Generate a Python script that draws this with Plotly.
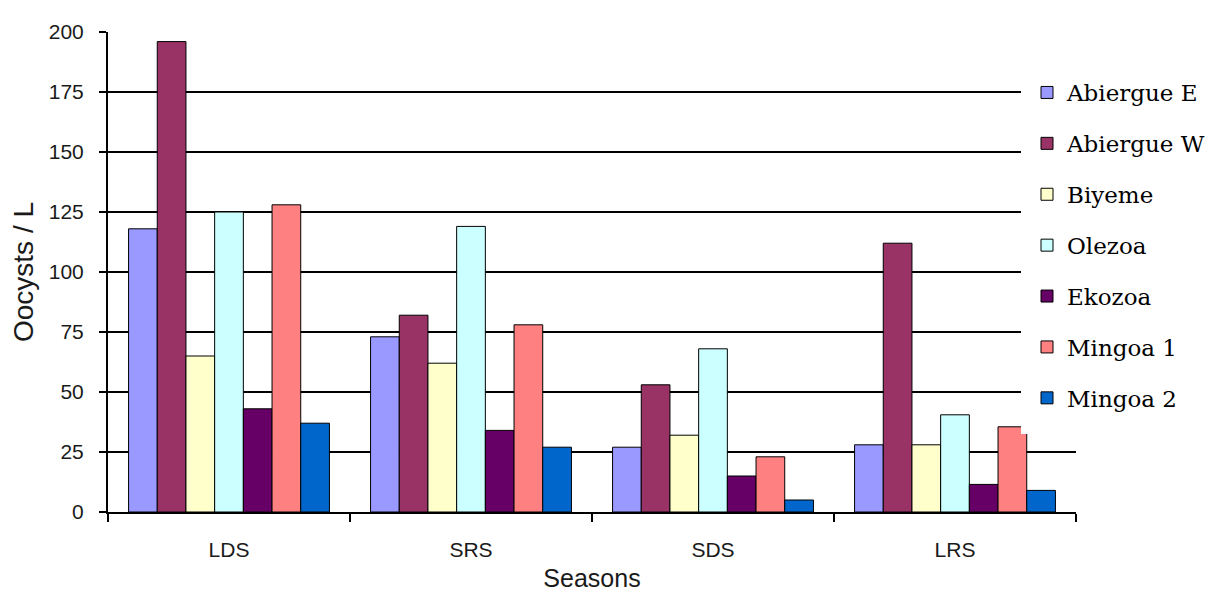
import plotly.graph_objects as go

seasons = ["LDS", "SRS", "SDS", "LRS"]
sites = ["Abiergue E", "Abiergue W", "Biyeme", "Olezoa", "Ekozoa", "Mingoa 1", "Mingoa 2"]
abiergue_e = [118, 73, 27, 28]
abiergue_w = [196, 82, 53, 112]
biyeme = [65, 62, 32, 28]
olezoa = [125, 119, 68, 40.5]
ekozoa = [43, 34, 15, 11.5]
mingoa_1 = [128, 78, 23, 35.5]
mingoa_2 = [37, 27, 5, 9]
series = [abiergue_e, abiergue_w, biyeme, olezoa, ekozoa, mingoa_1, mingoa_2]
colors = ["#9999FF", "#993366", "#FFFFCC", "#CCFFFF", "#660066", "#FF8080", "#0066CC"]
y_ticks = [0, 25, 50, 75, 100, 125, 150, 175, 200]

W, H = 1215, 597
L, R, T, B = 100, 1068, 24, 504

fig = go.Figure()
for name, vals, col in zip(sites, series, colors):
    fig.add_trace(go.Bar(
        x=seasons, y=vals, name=name, legendgroup=name,
        marker=dict(color=col, line=dict(color="black", width=1)),
    ))

def px_x(p):
    return (p - L) / (R - L)

def px_y(q):
    return (B - q) / (B - T)

fig.update_layout(
    width=W, height=H,
    margin=dict(l=L, r=W - R, t=T, b=H - B, autoexpand=False),
    paper_bgcolor="white", plot_bgcolor="white",
    barmode="group", bargap=0.17, bargroupgap=0,
    font=dict(family="Liberation Sans, Arial, sans-serif", color="#1a1a1a"),
    xaxis=dict(
        showline=True, linecolor="black", linewidth=2,
        ticks="outside", tickson="boundaries", ticklen=8, tickcolor="black", tickwidth=2,
        tickfont=dict(size=21), ticklabelstandoff=18,
        showgrid=False, automargin=False,
        title=dict(text="Seasons", font=dict(size=25), standoff=9),
    ),
    yaxis=dict(
        range=[0, 200], tickvals=y_ticks,
        showline=True, linecolor="black", linewidth=2,
        ticks="outside", ticklen=7, tickcolor="black", tickwidth=2,
        tickfont=dict(size=21), ticklabelstandoff=11,
        showgrid=True, gridcolor="black", gridwidth=1.8,
        zeroline=False, automargin=False,
        title=dict(text="Oocysts / L", font=dict(size=28), standoff=12),
    ),
    legend=dict(
        x=px_x(1019), y=px_y(63), xanchor="left", yanchor="top",
        bgcolor="rgba(0,0,0,0)", borderwidth=0,
        font=dict(family="DejaVu Serif, serif", size=23, color="black"),
        tracegroupgap=18,
        traceorder="grouped",
    ),
    shapes=[dict(
        type="rect", xref="paper", yref="paper",
        x0=px_x(1013), x1=px_x(1215), y0=px_y(426), y1=px_y(60),
        fillcolor="white", line=dict(width=0), layer="above",
    )],
)

fig.write_html("out.html")
